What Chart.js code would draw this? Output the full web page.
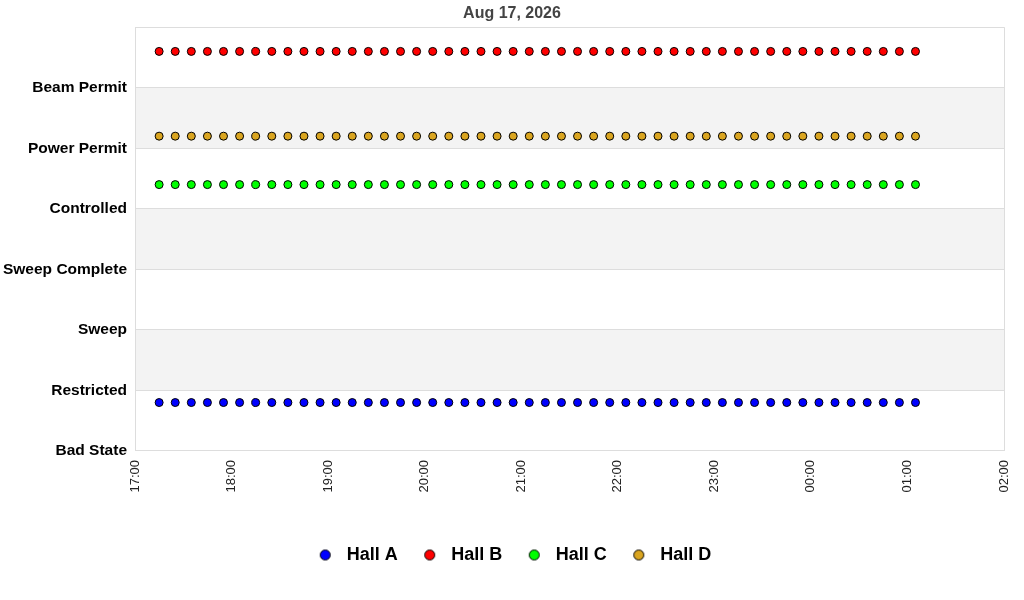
<!DOCTYPE html>
<html>
<head>
<meta charset="utf-8">
<title>Hall status</title>
<script src="https://cdn.jsdelivr.net/npm/chart.js@4.4.1/dist/chart.umd.min.js"></script>
<style>
  html, body { margin: 0; padding: 0; background: #fff; }
  #wrap { width: 1024px; height: 600px; }
</style>
</head>
<body>
<div id="wrap"><canvas id="statusChart" width="1024" height="600"></canvas></div>
<script>
// sample times (10 min apart)
const times = [
  '17:15', '17:25', '17:35', '17:45', '17:55',
  '18:05', '18:15', '18:25', '18:35', '18:45', '18:55',
  '19:05', '19:15', '19:25', '19:35', '19:45', '19:55',
  '20:05', '20:15', '20:25', '20:35', '20:45', '20:55',
  '21:05', '21:15', '21:25', '21:35', '21:45', '21:55',
  '22:05', '22:15', '22:25', '22:35', '22:45', '22:55',
  '23:05', '23:15', '23:25', '23:35', '23:45', '23:55',
  '00:05', '00:15', '00:25', '00:35', '00:45', '00:55',
  '01:05'
];

const stateLabels = ['Bad State', 'Restricted', 'Sweep', 'Sweep Complete', 'Controlled', 'Power Permit', 'Beam Permit'];

const hallA = [
  0.8, 0.8, 0.8, 0.8, 0.8, 0.8, 0.8, 0.8, 0.8, 0.8, 0.8, 0.8,
  0.8, 0.8, 0.8, 0.8, 0.8, 0.8, 0.8, 0.8, 0.8, 0.8, 0.8, 0.8,
  0.8, 0.8, 0.8, 0.8, 0.8, 0.8, 0.8, 0.8, 0.8, 0.8, 0.8, 0.8,
  0.8, 0.8, 0.8, 0.8, 0.8, 0.8, 0.8, 0.8, 0.8, 0.8, 0.8, 0.8
];
const hallB = [
  6.6, 6.6, 6.6, 6.6, 6.6, 6.6, 6.6, 6.6, 6.6, 6.6, 6.6, 6.6,
  6.6, 6.6, 6.6, 6.6, 6.6, 6.6, 6.6, 6.6, 6.6, 6.6, 6.6, 6.6,
  6.6, 6.6, 6.6, 6.6, 6.6, 6.6, 6.6, 6.6, 6.6, 6.6, 6.6, 6.6,
  6.6, 6.6, 6.6, 6.6, 6.6, 6.6, 6.6, 6.6, 6.6, 6.6, 6.6, 6.6
];
const hallC = [
  4.4, 4.4, 4.4, 4.4, 4.4, 4.4, 4.4, 4.4, 4.4, 4.4, 4.4, 4.4,
  4.4, 4.4, 4.4, 4.4, 4.4, 4.4, 4.4, 4.4, 4.4, 4.4, 4.4, 4.4,
  4.4, 4.4, 4.4, 4.4, 4.4, 4.4, 4.4, 4.4, 4.4, 4.4, 4.4, 4.4,
  4.4, 4.4, 4.4, 4.4, 4.4, 4.4, 4.4, 4.4, 4.4, 4.4, 4.4, 4.4
];
const hallD = [
  5.2, 5.2, 5.2, 5.2, 5.2, 5.2, 5.2, 5.2, 5.2, 5.2, 5.2, 5.2,
  5.2, 5.2, 5.2, 5.2, 5.2, 5.2, 5.2, 5.2, 5.2, 5.2, 5.2, 5.2,
  5.2, 5.2, 5.2, 5.2, 5.2, 5.2, 5.2, 5.2, 5.2, 5.2, 5.2, 5.2,
  5.2, 5.2, 5.2, 5.2, 5.2, 5.2, 5.2, 5.2, 5.2, 5.2, 5.2, 5.2
];

// axis runs 17:00 -> 02:00, kept as minutes after 17:00
const START_HOUR = 17;
const toMinutes = (t) => {
  let [h, m] = t.split(':').map(Number);
  if (h < START_HOUR) h += 24;
  return (h - START_HOUR) * 60 + m;
};
const fromMinutes = (v) => {
  const h = (START_HOUR + Math.floor(v / 60)) % 24;
  const m = v % 60;
  return String(h).padStart(2, '0') + ':' + String(m).padStart(2, '0');
};

const points = (vals) => times.map((t, i) => ({ x: toMinutes(t), y: vals[i] }));

const FONT = '"Liberation Sans", Arial, sans-serif';
const GRID = '#dddddd';

// small round swatch for the legend
const swatch = (color) => {
  const c = document.createElement('canvas');
  c.width = 13;
  c.height = 13;
  const g = c.getContext('2d');
  g.beginPath();
  g.arc(6.5, 6.5, 5, 0, Math.PI * 2);
  g.fillStyle = color;
  g.fill();
  g.lineWidth = 1;
  g.strokeStyle = '#000';
  g.stroke();
  return c;
};

// grey bands on alternate states
const bands = {
  id: 'bands',
  beforeDraw(chart) {
    const { ctx, chartArea, scales } = chart;
    ctx.save();
    ctx.fillStyle = '#f3f3f3';
    [1, 3, 5].forEach((lo) => {
      const top = scales.y.getPixelForValue(lo + 1);
      const bottom = scales.y.getPixelForValue(lo);
      ctx.fillRect(chartArea.left, top, chartArea.right - chartArea.left, bottom - top);
    });
    ctx.restore();
  }
};

const ds = (label, vals, color) => ({
  label,
  data: points(vals),
  showLine: false,
  backgroundColor: color,
  borderColor: '#000',
  pointBackgroundColor: color,
  pointBorderColor: '#000',
  pointBorderWidth: 1,
  pointRadius: 4,
  pointHoverRadius: 4
});

new Chart(document.getElementById('statusChart').getContext('2d'), {
  type: 'scatter',
  data: {
    datasets: [
      ds('Hall A', hallA, '#0000ff'),
      ds('Hall B', hallB, '#ff0000'),
      ds('Hall C', hallC, '#00ff00'),
      ds('Hall D', hallD, '#daa520')
    ]
  },
  plugins: [bands],
  options: {
    responsive: false,
    animation: false,
    devicePixelRatio: 1,
    layout: { padding: { left: 0, right: 0, top: 0, bottom: 26 } },
    plugins: {
      title: {
        display: true,
        text: 'Aug 17, 2026',
        color: '#444',
        font: { family: FONT, size: 16, weight: 'bold' },
        padding: { top: 4, bottom: 4 }
      },
      legend: {
        position: 'bottom',
        labels: {
          usePointStyle: true,
          pointStyleWidth: 25,
          boxHeight: 13,
          padding: 19.5,
          color: '#000',
          font: { family: FONT, size: 18, weight: 'bold' },
          generateLabels: (chart) => Chart.defaults.plugins.legend.labels.generateLabels(chart)
            .map((item) => Object.assign(item, {
              pointStyle: swatch(chart.data.datasets[item.datasetIndex].pointBackgroundColor)
            }))
        }
      },
      tooltip: { enabled: false }
    },
    scales: {
      x: {
        type: 'linear',
        min: 0,
        max: 540,
        afterFit: (s) => { s.height += 25; s.paddingRight = 20; },
        ticks: {
          stepSize: 60,
          minRotation: 90,
          maxRotation: 90,
          padding: 9,
          color: '#222',
          font: { family: FONT, size: 13 },
          callback: (v) => fromMinutes(v)
        },
        grid: {
          drawTicks: false,
          color: (c) => (c.tick && c.tick.value === 540 ? GRID : 'transparent')
        },
        border: { display: true, color: GRID }
      },
      y: {
        min: 0,
        max: 7,
        afterFit: (s) => { s.width = 135; },
        ticks: {
          stepSize: 1,
          padding: 8,
          color: '#000',
          font: { family: FONT, size: 15.5, weight: 'bold' },
          callback: (v) => stateLabels[v] || ''
        },
        grid: { drawTicks: false, color: GRID },
        border: { display: true, color: GRID }
      }
    }
  }
});
</script>
</body>
</html>
